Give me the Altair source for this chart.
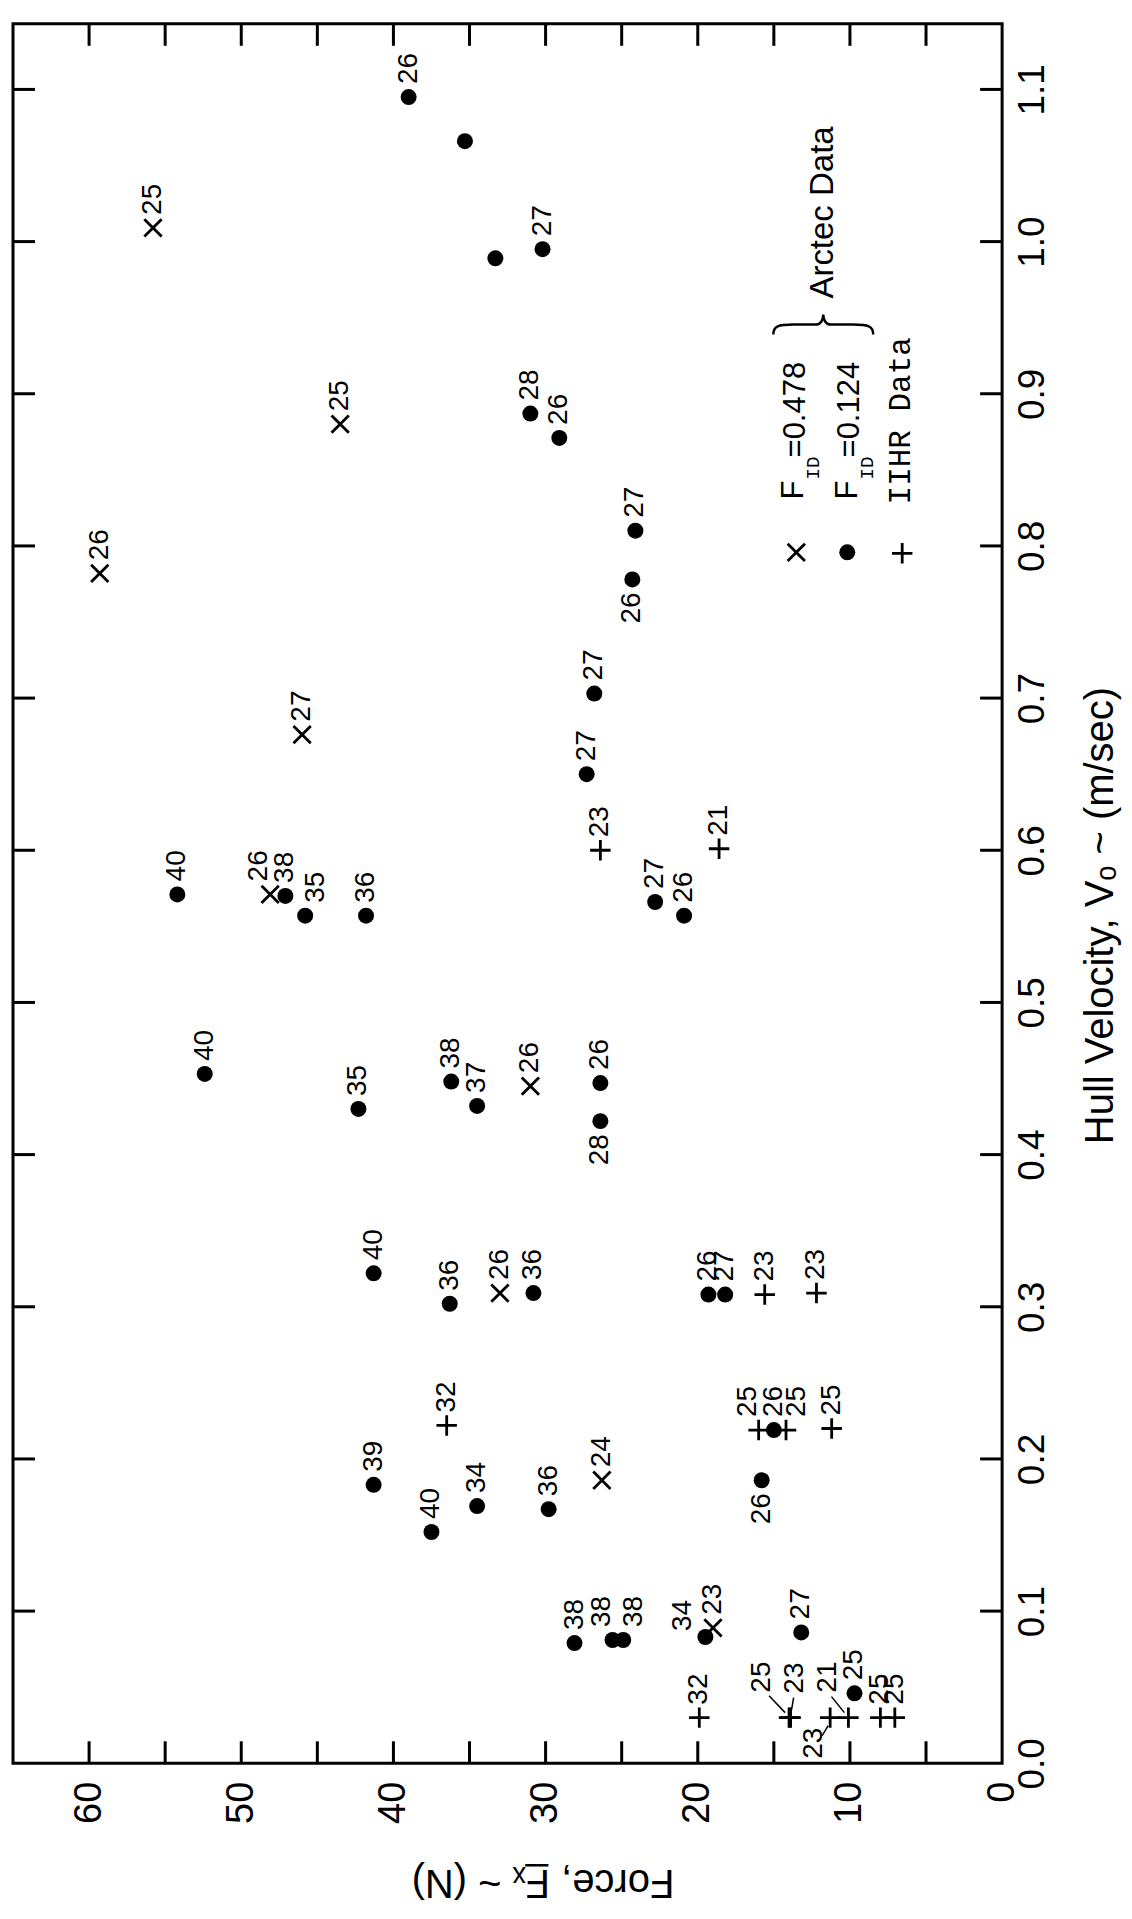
import altair as alt
import pandas as pd

# ---------------- data ----------------
# F_ID = 0.124 (filled dots)
dot_force = [39.0, 35.3, 33.3, 30.2, 31.0, 29.1, 24.1, 24.3, 26.8, 27.3,
             54.2, 47.1, 45.8, 41.8, 22.8, 20.9,
             52.4, 42.3, 36.2, 34.5, 26.4, 26.4,
             41.3, 36.3, 30.8, 19.3, 18.2,
             41.3, 37.5, 34.5, 29.8, 15.8, 15.0,
             28.1, 25.6, 24.9, 19.5, 13.2, 9.7]
dot_vel = [1.095, 1.066, 0.989, 0.995, 0.887, 0.871, 0.810, 0.778, 0.703, 0.650,
           0.571, 0.570, 0.557, 0.557, 0.566, 0.557,
           0.453, 0.430, 0.448, 0.432, 0.447, 0.422,
           0.322, 0.302, 0.309, 0.308, 0.308,
           0.183, 0.152, 0.169, 0.167, 0.186, 0.219,
           0.079, 0.081, 0.081, 0.083, 0.086, 0.046]
dot_label = ["26", "", "", "27", "28", "26", "27", "26", "27", "27",
             "40", "38", "35", "36", "27", "26",
             "40", "35", "38", "37", "26", "28",
             "40", "36", "36", "26", "27",
             "39", "40", "34", "36", "26", "26",
             "38", "38", "38", "34", "27", "25"]
dot_place = ["a", "a", "a", "a", "a", "a", "a", "b", "a", "a",
             "a", "a", "ar", "a", "a", "a",
             "a", "a", "a", "a", "a", "b",
             "a", "a", "a", "a", "a",
             "a", "a", "a", "a", "b", "a",
             "a", "al", "ar", "ul", "a", "a"]

# F_ID = 0.478 (crosses)
x_force = [55.8, 43.5, 59.3, 46.0, 48.1, 31.0, 33.0, 26.3, 19.0]
x_vel = [1.009, 0.880, 0.782, 0.676, 0.571, 0.445, 0.309, 0.186, 0.089]
x_label = ["25", "25", "26", "27", "26", "26", "26", "24", "23"]
x_place = ["a", "a", "a", "a", "al", "a", "a", "a", "a"]

# IIHR data (plus signs)
p_force = [26.4, 18.6, 15.6, 12.2, 36.5, 16.0, 14.2, 11.2, 19.9, 14.0, 13.9, 11.3, 10.1, 8.0, 7.05]
p_vel = [0.600, 0.601, 0.308, 0.309, 0.222, 0.219, 0.219, 0.220,
         0.030, 0.030, 0.030, 0.030, 0.030, 0.030, 0.030]
p_label = ["23", "21", "23", "23", "32", "25", "25", "25", "32", "25", "23", "23", "21", "25", "25"]
p_place = ["a", "a", "a", "a", "a", "al", "ar", "a", "a", "L1", "L2", "L4", "L3", "a", "a"]

force_ticks = [5, 10, 15, 20, 25, 30, 35, 40, 45, 50, 55, 60]
force_tick_labels = [0, 10, 20, 30, 40, 50, 60]
vel_ticks = [0.1, 0.2, 0.3, 0.4, 0.5, 0.6, 0.7, 0.8, 0.9, 1.0, 1.1]
vel_tick_labels = [0.0, 0.1, 0.2, 0.3, 0.4, 0.5, 0.6, 0.7, 0.8, 0.9, 1.0, 1.1]

x_title = "Force, F\u0332\u2093 ~ (N)"
y_title = "Hull Velocity, V\u2092 ~ (m/sec)"

# ---------------- layout / style ----------------
W, H = 990, 1741
SANS = "Liberation Sans"
MONO = "Liberation Mono"
TICK = 22
LBL = 28
XPATH = "M -1 -1 L 1 1 M -1 1 L 1 -1"
PPATH = "M -1 0 L 1 0 M 0 -1 L 0 1"
BRACE = ("M -1 0.2 C -1 0.03 -0.9 0 -0.6 0 L -0.15 0 C -0.05 0 0 -0.1 0 -0.2 "
         "C 0 -0.1 0.05 0 0.15 0 L 0.6 0 C 0.9 0 1 0.03 1 0.2")

df = pd.concat([
    pd.DataFrame(dict(kind="dot", force=dot_force, vel=dot_vel, label=dot_label, place=dot_place)),
    pd.DataFrame(dict(kind="x", force=x_force, vel=x_vel, label=x_label, place=x_place)),
    pd.DataFrame(dict(kind="plus", force=p_force, vel=p_vel, label=p_label, place=p_place)),
], ignore_index=True)

xs = alt.Scale(domain=[0, 65], reverse=True, nice=False, zero=False)
ys = alt.Scale(domain=[0, 1.1431], nice=False, zero=False)

x_axis = alt.Axis(values=force_tick_labels, labelAngle=270, labelAlign="right", labelBaseline="middle",
                  labelPadding=18, ticks=False, tickSize=0, domain=False, grid=False,
                  labelFlush=False, labelOverlap=False,
                  labelFont=SANS, labelFontSize=38, labelColor="black",
                  title=x_title, titleAngle=180, titleFont=SANS, titleFontSize=40,
                  titleFontWeight="normal", titleColor="black", titleX=530, titleY=118,
                  titleBaseline="middle", titleAlign="center")
y_axis = alt.Axis(orient="right", values=vel_tick_labels, format=".1f", labelAngle=270,
                  labelAlign="center", labelBaseline="top", labelPadding=12,
                  ticks=False, tickSize=0, domain=False, grid=False,
                  labelFlush=False, labelOverlap=False,
                  labelFont=SANS, labelFontSize=37, labelColor="black",
                  title=y_title, titleAngle=270, titleFont=SANS, titleFontSize=40,
                  titleFontWeight="normal", titleColor="black", titleX=98, titleY=892,
                  titleBaseline="middle", titleAlign="center")

# identical x/y encodings in every data layer so the axes merge cleanly
X = alt.X("force:Q", scale=xs, axis=x_axis)
Y = alt.Y("vel:Q", scale=ys, axis=y_axis)

base = alt.Chart(df)
layers = []

# markers (axis-owning layer first)
layers.append(base.transform_filter("datum.kind == 'dot'").mark_point(
    shape="circle", filled=True, size=256, color="black", opacity=1
).encode(x=X, y=Y))
layers.append(base.transform_filter("datum.kind == 'x'").mark_point(
    shape=XPATH, filled=False, size=300, strokeWidth=2.8, color="black", opacity=1
).encode(x=X, y=Y))
layers.append(base.transform_filter("datum.kind == 'plus'").mark_point(
    shape=PPATH, filled=False, size=420, strokeWidth=2.8, color="black", opacity=1
).encode(x=X, y=Y))

# inward ticks on all four sides
ft = alt.Chart(pd.DataFrame({"force": force_ticks}))
vt = alt.Chart(pd.DataFrame({"vel": vel_ticks}))
layers.append(ft.mark_rule(color="black", strokeWidth=3).encode(x=X, y=alt.value(H), y2=alt.value(H - TICK)))
layers.append(ft.mark_rule(color="black", strokeWidth=3).encode(x=X, y=alt.value(0), y2=alt.value(TICK)))
layers.append(vt.mark_rule(color="black", strokeWidth=3).encode(y=Y, x=alt.value(0), x2=alt.value(TICK)))
layers.append(vt.mark_rule(color="black", strokeWidth=3).encode(y=Y, x=alt.value(W), x2=alt.value(W - TICK)))

# point labels (rotated like the rest of the figure)
placements = {
    "a": ("left", 13, 0),
    "b": ("right", -13, 0),
    "al": ("left", 13, -11),
    "ar": ("left", 13, 11),
    "ul": ("left", 6, -22),
    "L1": ("left", 25, -27),
    "L2": ("left", 24, 4),
    "L3": ("left", 25, -20),
    "L4": ("right", -10, -16),
}
for key, (align, dx, dy) in placements.items():
    layers.append(base.transform_filter(
        f"datum.place == '{key}' && datum.label != ''"
    ).mark_text(angle=270, align=align, baseline="middle", dx=dx, dy=dy,
                font=SANS, fontSize=LBL, color="black").encode(x=X, y=Y, text="label:N"))

# leader lines for the crowded labels near V = 0.03
leaders = {"L1": (-4, -5, -20, -22), "L2": (1, -8, 3, -20), "L3": (-4, -5, -17, -21), "L4": (-2, 8, -8, 18)}
for key, (xo, yo, x2o, y2o) in leaders.items():
    layers.append(base.transform_filter(f"datum.place == '{key}'").mark_rule(
        color="black", strokeWidth=1.5, xOffset=xo, yOffset=yo, x2Offset=x2o, y2Offset=y2o
    ).encode(x=X, x2=alt.X2("force"), y=Y, y2=alt.Y2("vel")))

# legend (drawn in place, rotated)
one = alt.Chart(pd.DataFrame({"k": [0]}))
layers.append(one.mark_point(shape=XPATH, filled=False, size=300, strokeWidth=2.8, color="black", opacity=1)
              .encode(x=alt.value(784), y=alt.value(529)))
layers.append(one.mark_point(shape="circle", filled=True, size=256, color="black", opacity=1)
              .encode(x=alt.value(835), y=alt.value(529)))
layers.append(one.mark_point(shape=PPATH, filled=False, size=420, strokeWidth=2.8, color="black", opacity=1)
              .encode(x=alt.value(890), y=alt.value(530)))
legend_texts = [
    ("F", 782, 476, 31, SANS), ("ID", 801, 456, 19, MONO), ("=0.478", 784, 434, 31, SANS),
    ("F", 836, 476, 31, SANS), ("ID", 855, 456, 19, MONO), ("=0.124", 838, 434, 31, SANS),
    ("IIHR Data", 889, 481, 31, MONO),
    ("Arctec Data", 811, 275, 33, SANS),
]
for txt, px, py, fs, fnt in legend_texts:
    layers.append(one.mark_text(text=txt, angle=270, align="left", baseline="middle",
                                font=fnt, fontSize=fs, color="black")
                  .encode(x=alt.value(px), y=alt.value(py)))
layers.append(one.mark_point(shape=BRACE, filled=False, size=10000, strokeWidth=2.5, color="black", opacity=1)
              .encode(x=alt.value(811), y=alt.value(301)))

chart = alt.layer(*layers).properties(
    width=W, height=H,
    padding={"left": 3, "top": 13, "right": 4, "bottom": 4},
    background="white",
).configure_view(stroke="black", strokeWidth=3)

chart.save("out.html", embed_options={"renderer": "svg", "actions": False})
